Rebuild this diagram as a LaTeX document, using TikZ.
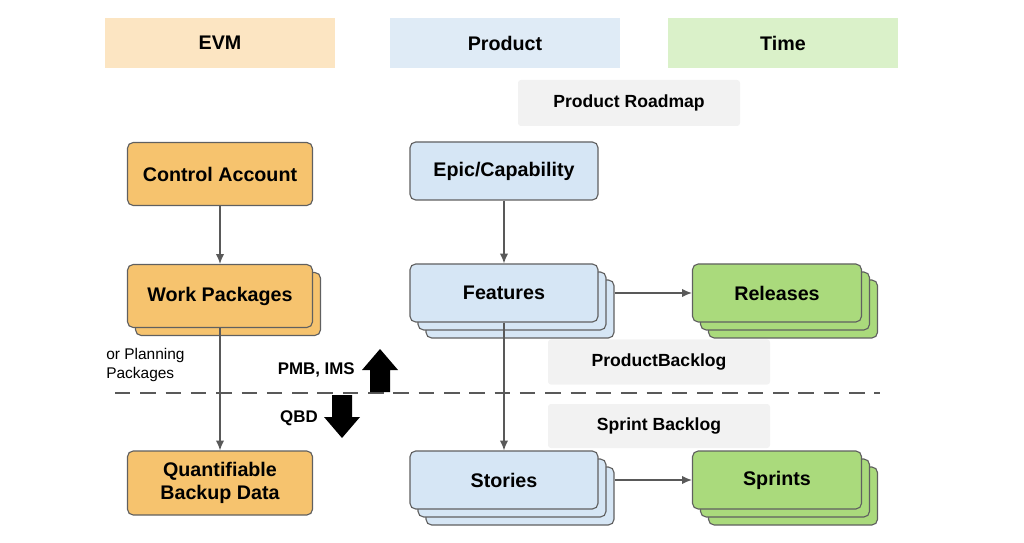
\documentclass[tikz,border=0pt]{standalone}
\usepackage{fontspec}
\setmainfont{Liberation Sans}
\begin{document}
\begin{tikzpicture}[x=0.025cm,y=-0.025cm,
  hdr/.style={draw=none,font=\bfseries\fontsize{14}{16}\selectfont,inner sep=0},
  gbox/.style={fill=gray!10,draw=none,rounded corners=2pt,font=\bfseries\fontsize{12.5}{14}\selectfont,inner sep=0},
  box/.style={draw=gray!75!black,line width=0.8pt,rounded corners=4pt,font=\bfseries\fontsize{14}{16}\selectfont,align=center,inner sep=0},
  arr/.style={draw=gray!70!black,line width=1pt,-{Latex[length=7pt,width=6pt]}}]
\usetikzlibrary{arrows.meta}
\definecolor{hor}{HTML}{FCE5C2}\definecolor{hbl}{HTML}{DFEBF6}\definecolor{hgr}{HTML}{DAF1C9}
\definecolor{bor}{HTML}{F6C36E}\definecolor{bbl}{HTML}{D6E6F5}\definecolor{bgr}{HTML}{AADA7C}
\useasboundingbox (0,0) rectangle (1024,543);
\fill[hor] (105,18) rectangle (335,68); \node[hdr] (h1) at (220,43) {EVM};
\fill[hbl] (390,18) rectangle (620,68); \node[hdr] (h2) at (505,43) {Product};
\fill[hgr] (668,18) rectangle (898,68); \node[hdr] (h3) at (783,43) {Time};
\node[gbox,minimum width=222*0.025cm,minimum height=46*0.025cm] (pr) at (629,103) {Product Roadmap};
\node[gbox,minimum width=222*0.025cm,minimum height=45*0.025cm] (pb) at (659,362) {ProductBacklog};
\node[gbox,minimum width=222*0.025cm,minimum height=44*0.025cm] (sb) at (659,426) {Sprint Backlog};
% EVM column
\node[box,fill=bor,minimum width=185*0.025cm,minimum height=63*0.025cm] (ca) at (220,174) {Control Account};
\node[box,fill=bor,minimum width=185*0.025cm,minimum height=63*0.025cm] (wpb) at (228,304) {};
\node[box,fill=bor,minimum width=185*0.025cm,minimum height=63*0.025cm] (wp) at (220,296) {Work Packages};
\node[box,fill=bor,minimum width=185*0.025cm,minimum height=64*0.025cm] (qb) at (220,483) {Quantifiable\\Backup Data};
% product column
\node[box,fill=bbl,minimum width=188*0.025cm,minimum height=58*0.025cm] (ep) at (504,171) {Epic/Capability};
\foreach \n/\d in {fe2/16,fe1/8}{\node[box,fill=bbl,minimum width=188*0.025cm,minimum height=58*0.025cm] (\n) at (504+\d,293+\d) {};}
\node[box,fill=bbl,minimum width=188*0.025cm,minimum height=58*0.025cm] (fe) at (504,293) {Features};
\foreach \n/\d in {st2/16,st1/8}{\node[box,fill=bbl,minimum width=188*0.025cm,minimum height=58*0.025cm] (\n) at (504+\d,480+\d) {};}
\node[box,fill=bbl,minimum width=188*0.025cm,minimum height=58*0.025cm] (st) at (504,480) {Stories};
% time column
\foreach \n/\d in {re2/16,re1/8}{\node[box,fill=bgr,minimum width=169*0.025cm,minimum height=58*0.025cm] (\n) at (777+\d,293+\d) {};}
\node[box,fill=bgr,minimum width=169*0.025cm,minimum height=58*0.025cm] (re) at (777,293) {Releases};
\foreach \n/\d in {sp2/16,sp1/8}{\node[box,fill=bgr,minimum width=169*0.025cm,minimum height=58*0.025cm] (\n) at (777+\d,480+\d) {};}
\node[box,fill=bgr,minimum width=169*0.025cm,minimum height=58*0.025cm] (sp) at (777,480) {Sprints};
% arrows
\draw[arr] (ca) -- (wp);
\draw[arr] (wp.south) -- (qb.north);
\draw[arr] (ep) -- (fe);
\draw[arr] (fe.south) -- (st.north);
\draw[arr] (fe2.east|-fe) -- (re);
\draw[arr] (st2.east|-st) -- (sp);
% dashed line
\coordinate (dl) at (115,393); \coordinate (dr) at (880,393);
\draw[gray!70!black,line width=2pt,dash pattern=on 11pt off 7pt] (dl) -- (dr);
% text
\node[anchor=west,font=\fontsize{11}{13}\selectfont,align=left,inner sep=0] (pp) at (106,365) {or Planning\\Packages};
\node[anchor=east,font=\bfseries\fontsize{12}{14}\selectfont,inner sep=0] (pm) at (355,370) {PMB, IMS};
\node[anchor=east,font=\bfseries\fontsize{12}{14}\selectfont,inner sep=0] (qbd) at (318,418) {QBD};
\fill[black] (370,392) -- (370,370) -- (362,370) -- (380,349) -- (398,370) -- (390,370) -- (390,392) -- cycle;
\fill[black] (332,395) -- (332,417) -- (324,417) -- (342,438) -- (360,417) -- (352,417) -- (352,395) -- cycle;
\end{tikzpicture}
\end{document}
